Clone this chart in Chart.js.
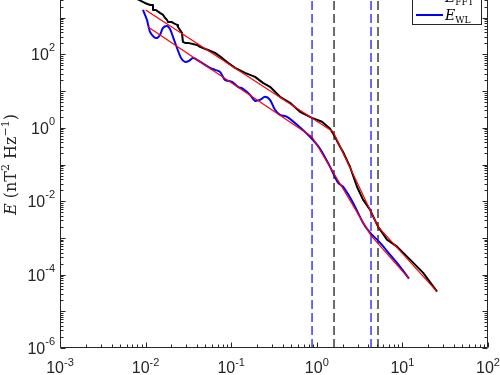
<!DOCTYPE html>
<html><head><meta charset="utf-8">
<script src="https://cdn.jsdelivr.net/npm/chart.js@4.4.0/dist/chart.umd.min.js"></script>
<style>
html,body{margin:0;padding:0;background:#fff;overflow:hidden;width:500px;height:375px;position:relative}
canvas{position:absolute;left:0;top:-20px}
</style>
</head><body>
<canvas id="c" width="500" height="395"></canvas>
<script>
// ---------- data ----------
const fftFreq = [0.0079,0.0098,0.0113,0.0122,0.0122,0.0132,0.0147,0.0160,0.0169,0.0178,0.0183,0.0203,0.0209,0.0233,0.0239,0.0266,0.0273,0.0289,0.0313,0.0399,0.0432,0.0536,0.0647,0.0781,0.0918,0.111,0.145,0.190,0.235,0.284,0.372,0.486,0.636,0.879,1.15,1.43,1.63,1.87,2.02,2.44,2.95,3.47,4.18,5.19,6.61,8.65,12.3,17.4,25.4];
const fftEnergy = [3240,2520,2220,2220,1625,1625,1350,1190,985,870,766,766,720,635,560,385,219,206,206,181,160,132,110,80.3,58.7,42.9,31.4,24.4,16.8,13.1,6.98,4.79,2.73,1.87,1.46,0.94,0.569,0.304,0.222,0.0868,0.0248,0.0110,0.00587,0.00202,0.000896,0.000578,0.000256,0.000113,0.0000345];

const wlFreq = [0.00932,0.01038,0.01126,0.01253,0.01359,0.01473,0.01597,0.01778,0.01928,0.02090,0.02327,0.02593,0.02886,0.03214,0.03579,0.03987,0.04559,0.05652,0.06465,0.07397,0.08463,0.1022,0.1201,0.1373,0.1658,0.1897,0.2170,0.2482,0.2840,0.3249,0.3716,0.4486,0.5871,0.8328,1.090,1.426,1.769,2.024,2.648,3.465,4.183,5.473,7.163,9.376,11.94];
const wlEnergy = [1625,868,409,299,281,339,526,597,494,299,150,80.3,62.5,66.6,80.3,70.9,58.7,42.9,37.9,33.4,20.2,17.9,13.1,11.5,7.91,5.43,5.78,6.98,5.78,3.09,2.26,1.99,1.21,0.569,0.268,0.0868,0.0319,0.0248,0.0091,0.0026,0.00139,0.000743,0.00035,0.000165,0.0000778];

const fitFftFreq = [0.0100,1.55,5.19,25.4];
const fitFftEnergy = [1625,0.78,0.00202,0.0000345];
const fitWlFreq = [0.0107,0.879,4.30,11.94];
const fitWlEnergy = [560,0.569,0.00115,0.0000778];

const breakFreqWL = [0.88,4.30];   // blue dashed
const breakFreqFFT = [1.59,5.19];  // black dashed
const yRange = [1e-6,1e4];
const xRange = [1e-3,1e2];

const xTickExps = [-3,-2,-1,0,1,2];
const yTickExps = [-6,-4,-2,0,2,4];
const legendNames = ['E','E'];
const legendSubs = ['FFT','WL'];
const yTitleParts = [['E','i'],[' (nT','n'],['2','s'],[' Hz','n'],['\u22121','s'],[')','n']];

// ---------- styling ----------
const INK = '#262626';
const TICK_FONT = '16px "Liberation Sans", Arial, sans-serif';
const SUP_FONT = '11px "Liberation Sans", Arial, sans-serif';

function pts(xs, ys){ return xs.map((v,i)=>({x:v,y:ys[i]})); }
function vline(f){ return yRange.map(v=>({x:f,y:v})); }

const datasets = [
  {data:pts(fitFftFreq,fitFftEnergy), borderColor:'#ff0000', borderWidth:1.2, order:0},
  {data:pts(fitWlFreq,fitWlEnergy), borderColor:'#ff0000', borderWidth:1.2, order:0},
  {data:pts(fftFreq,fftEnergy), borderColor:'#000000', borderWidth:2, order:1},
  {data:pts(wlFreq,wlEnergy), borderColor:'#0000ff', borderWidth:2, tension:0.3, order:1},
];
breakFreqWL.forEach(f=>datasets.push({data:vline(f), borderColor:'#2a2aff', borderWidth:1.4, borderDash:[9,4], order:2}));
breakFreqFFT.forEach(f=>datasets.push({data:vline(f), borderColor:'rgba(0,0,0,0.72)', borderWidth:1.6, borderDash:[9,4], order:2}));
datasets.forEach(d=>{d.pointRadius=0; d.fill=false; d.borderJoinStyle='round'; if(d.tension===undefined) d.tension=0;});

const decor = {
  id:'decor',
  afterDraw(chart){
    const {ctx, chartArea:a, scales:{x,y}} = chart;
    ctx.save();
    ctx.strokeStyle = INK; ctx.fillStyle = INK; ctx.lineWidth = 1;
    const L = Math.round(a.left)+0.5, R = Math.round(a.right)-0.5, T = Math.round(a.top)+0.5, B = Math.round(a.bottom)-0.5;
    ctx.beginPath();
    ctx.rect(L, T, R-L, B-T);
    // x ticks
    for (let e=Math.log10(xRange[0]); e<Math.log10(xRange[1])+0.5; e++){
      for (let m=1;m<=9;m++){
        const v = m*Math.pow(10,e); if (v>xRange[1]*1.0001) break;
        const px = Math.round(x.getPixelForValue(v))+0.5, len = m===1?5:3;
        ctx.moveTo(px,B); ctx.lineTo(px,B-len);
        ctx.moveTo(px,T); ctx.lineTo(px,T+len);
      }
    }
    for (let e=Math.log10(yRange[0]); e<Math.log10(yRange[1])+0.5; e++){
      for (let m=1;m<=9;m++){
        const v = m*Math.pow(10,e); if (v>yRange[1]*1.0001) break;
        const py = Math.round(y.getPixelForValue(v))+0.5, len = m===1?5:3;
        ctx.moveTo(L,py); ctx.lineTo(L+len,py);
        ctx.moveTo(R,py); ctx.lineTo(R-len,py);
      }
    }
    ctx.stroke();
    // x tick labels
    ctx.textBaseline = 'alphabetic';
    xTickExps.forEach(e=>{
      const px = x.getPixelForValue(Math.pow(10,e));
      ctx.font = TICK_FONT; const wb = ctx.measureText('10').width;
      ctx.font = SUP_FONT; const s = (e<0?'-':'')+Math.abs(e); const ws = ctx.measureText(s).width;
      const x0 = px - (wb+ws)/2;
      ctx.font = TICK_FONT; ctx.textAlign='left'; ctx.fillText('10', x0, a.bottom+25);
      ctx.font = SUP_FONT; ctx.fillText(s, x0+wb, a.bottom+17.5);
    });
    // y tick labels
    yTickExps.forEach(e=>{
      const py = y.getPixelForValue(Math.pow(10,e));
      const s = (e<0?'-':'')+Math.abs(e);
      ctx.font = SUP_FONT; const ws = ctx.measureText(s).width;
      ctx.textAlign='right';
      ctx.fillText(s, a.left-5, py-3);
      ctx.font = TICK_FONT; ctx.fillText('10', a.left-5-ws, py+6);
    });
    // y title (rotated)
    ctx.save();
    ctx.translate(16, (a.top+a.bottom)/2);
    ctx.rotate(-Math.PI/2);
    const fontOf = k => k==='i' ? 'italic 16px "DejaVu Serif", serif' : (k==='s' ? '11px "DejaVu Serif", serif' : '16px "DejaVu Serif", serif');
    let tw = 0;
    yTitleParts.forEach(([t,k])=>{ ctx.font=fontOf(k); tw += ctx.measureText(t).width; });
    let cx = -tw/2; ctx.textAlign='left';
    yTitleParts.forEach(([t,k])=>{ ctx.font=fontOf(k); ctx.fillText(t, cx, k==='s'?-7:0); cx += ctx.measureText(t).width; });
    ctx.restore();
    // legend
    const lx0 = 412.5, lx1 = 481.5, ly1 = 44.5, ly0 = 4.5;
    ctx.fillStyle='#fff'; ctx.fillRect(lx0, ly0, lx1-lx0, ly1-ly0);
    ctx.strokeStyle = INK; ctx.lineWidth=1; ctx.strokeRect(lx0, ly0, lx1-lx0, ly1-ly0);
    const rows = [17, 35], cols = ['#000000','#0000ff'];
    rows.forEach((ry,i)=>{
      ctx.strokeStyle = cols[i]; ctx.lineWidth=2;
      ctx.beginPath(); ctx.moveTo(416, ry); ctx.lineTo(443, ry); ctx.stroke();
      ctx.fillStyle = '#000'; ctx.textAlign='left';
      ctx.font = 'italic 14px "DejaVu Serif", serif';
      ctx.fillText(legendNames[i], 445, ry+5);
      const we = ctx.measureText(legendNames[i]).width;
      ctx.font = '9px "DejaVu Serif", serif';
      ctx.fillText(legendSubs[i], 445+we, ry+8);
    });
    ctx.restore();
  }
};

new Chart(document.getElementById('c'), {
  type:'line',
  data:{datasets},
  options:{
    responsive:false, animation:false, devicePixelRatio:1,
    layout:{padding:{left:60, right:12, top:1, bottom:27}},
    plugins:{legend:{display:false}, tooltip:{enabled:false}},
    scales:{
      x:{type:'logarithmic', min:xRange[0], max:xRange[1], display:false},
      y:{type:'logarithmic', min:yRange[0], max:yRange[1], display:false}
    }
  },
  plugins:[decor]
});
</script>
</body></html>
